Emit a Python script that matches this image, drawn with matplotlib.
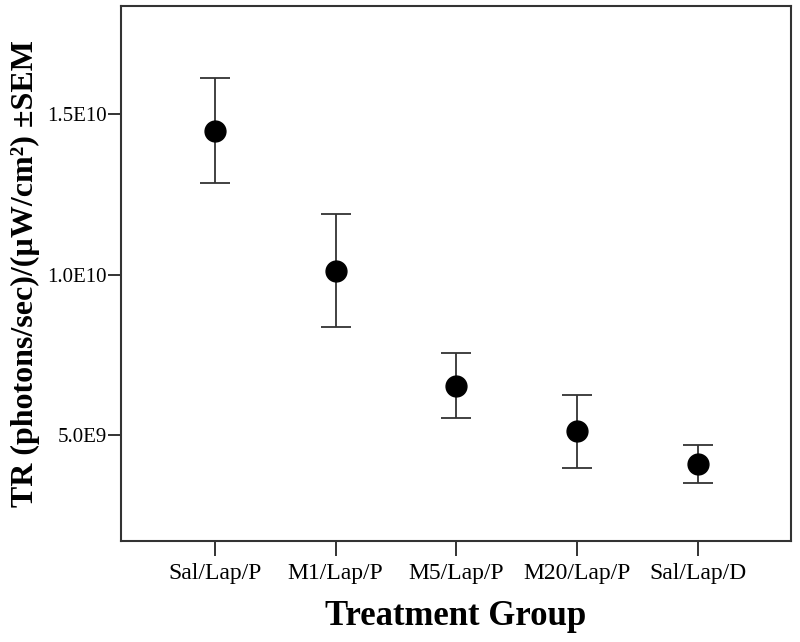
import matplotlib.pyplot as plt

groups = ['Sal/Lap/P', 'M1/Lap/P', 'M5/Lap/P', 'M20/Lap/P', 'Sal/Lap/D']
means = [1.447e10, 1.012e10, 6.53e9, 5.13e9, 4.10e9]
upper = [1.610e10, 1.189e10, 7.55e9, 6.24e9, 4.69e9]
lower = [1.284e10, 8.36e9, 5.55e9, 3.99e9, 3.51e9]
yticks = [5e9, 1e10, 1.5e10]
ytick_labels = ['5.0E9', '1.0E10', '1.5E10']

plt.rcParams['font.family'] = ['Liberation Serif', 'DejaVu Serif']

fig = plt.figure(figsize=(8, 6.42), dpi=100)
ax = fig.add_axes([0.151, 0.1573, 0.838, 0.8334])

x = list(range(len(groups)))
err_lo = [m - l for m, l in zip(means, lower)]
err_hi = [u - m for m, u in zip(means, upper)]
ax.errorbar(x, means, yerr=[err_lo, err_hi], fmt='o', color='black',
            ecolor='#333333', elinewidth=1.3, capsize=10.8, capthick=1.3,
            markersize=15)

ax.set_xlim(-0.779, 4.773)
ax.set_ylim(1.713e9, 1.835e10)
ax.set_xticks(x)
ax.set_xticklabels(groups, fontsize=17)
ax.set_yticks(yticks)
ax.set_yticklabels(ytick_labels, fontsize=15)
ax.tick_params(axis='y', length=9.5, width=1.4, pad=0.5, color='#333333')
ax.tick_params(axis='x', length=11, width=1.4, pad=5, color='#333333')

for s in ax.spines.values():
    s.set_linewidth(1.5)
    s.set_color('#333333')

ax.set_xlabel('Treatment Group', fontsize=25, fontweight='bold', labelpad=11)
ax.set_ylabel('TR (photons/sec)/(µW/cm²) ±SEM', fontsize=23,
              fontweight='bold', labelpad=5)

fig.savefig('out.png', dpi=100)
